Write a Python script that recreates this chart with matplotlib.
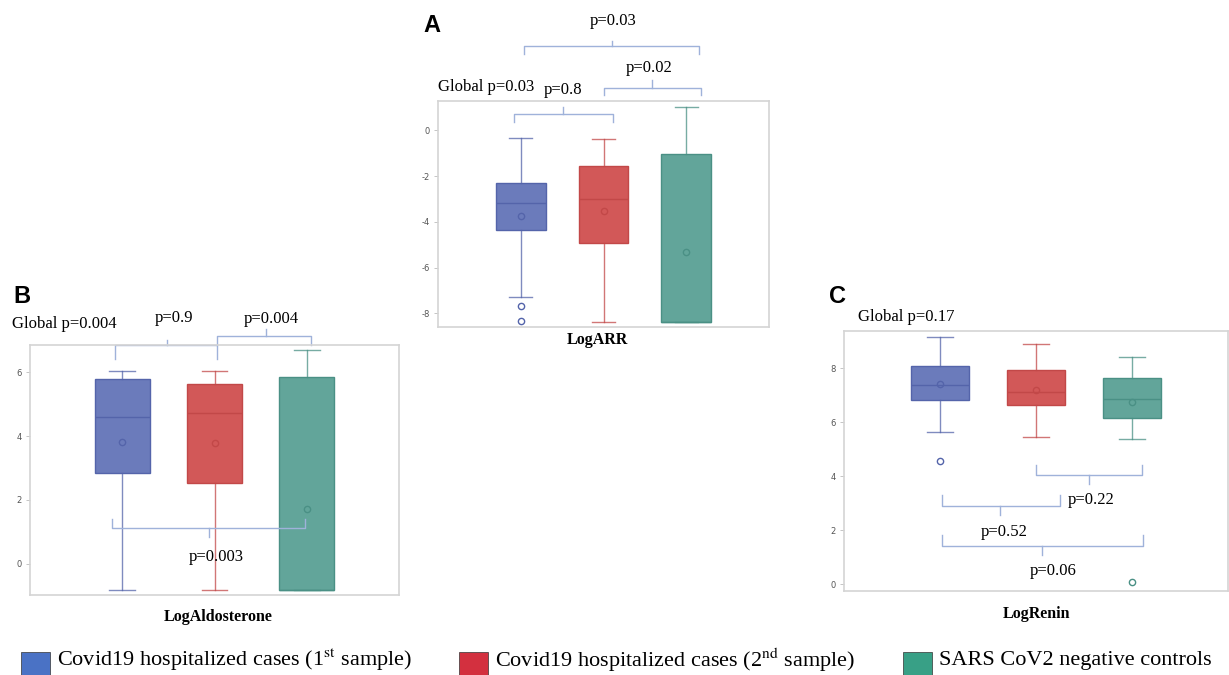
import numpy as np
import matplotlib.pyplot as plt
from matplotlib.patches import Rectangle

plt.rcParams['font.family'] = ['Liberation Serif', 'DejaVu Serif']
plt.rcParams['mathtext.fontset'] = 'stix'
plt.rcParams['axes.unicode_minus'] = False

# 三组：第一次采样、第二次采样、阴性对照
groups = ['Covid19 hospitalized cases (1$^{\\mathrm{st}}$ sample)',
          'Covid19 hospitalized cases (2$^{\\mathrm{nd}}$ sample)',
          'SARS CoV2 negative controls']
fill_colors = ['#6B7BBB', '#D25858', '#62A59A']
edge_colors = ['#5464AA', '#C24848', '#4A9085']
legend_colors = ['#4A72C5', '#D3303F', '#38A086']

# 每个面板: whishi, q3, med, q1, whislo, mean
arr_hi = [-0.32, -0.39, 1.03]
arr_q3 = [-2.29, -1.54, -1.02]
arr_med = [-3.19, -3.01, -8.37]
arr_q1 = [-4.38, -4.92, -8.37]
arr_lo = [-7.29, -8.37, -8.37]
arr_mean = [-3.74, -3.55, -5.30]
arr_fliers = [[-7.67, -8.35], [], []]

ald_hi = [6.06, 6.04, 6.69]
ald_q3 = [5.78, 5.64, 5.85]
ald_med = [4.59, 4.72, -0.81]
ald_q1 = [2.84, 2.53, -0.81]
ald_lo = [-0.81, -0.81, -0.81]
ald_mean = [3.82, 3.79, 1.73]
ald_fliers = [[], [], []]

ren_hi = [9.15, 8.88, 8.41]
ren_q3 = [8.07, 7.93, 7.65]
ren_med = [7.38, 7.12, 6.86]
ren_q1 = [6.84, 6.63, 6.17]
ren_lo = [5.65, 5.46, 5.37]
ren_mean = [7.40, 7.21, 6.75]
ren_fliers = [[4.57], [], [0.1]]

W, H = 1229, 675
fig = plt.figure(figsize=(W / 100, H / 100), dpi=100)


def px_axes(l, t, r, b):
    return fig.add_axes([l / W, 1 - b / H, (r - l) / W, (b - t) / H])


def draw_box(ax, hi, q3, med, q1, lo, mean, fliers, ylim, yticks):
    for i in range(3):
        st = [dict(whishi=hi[i], q3=q3[i], med=med[i], q1=q1[i],
                   whislo=lo[i], mean=mean[i], fliers=fliers[i])]
        ec = edge_colors[i]
        ax.bxp(st, positions=[i + 1], widths=0.6, capwidths=0.28,
               patch_artist=True, showmeans=True, showfliers=True,
               boxprops=dict(facecolor=fill_colors[i], edgecolor=ec, linewidth=1),
               medianprops=dict(color=ec, linewidth=1),
               whiskerprops=dict(color=ec, linewidth=1, alpha=0.75),
               capprops=dict(color=ec, linewidth=1, alpha=0.75),
               meanprops=dict(marker='o', markerfacecolor='none',
                              markeredgecolor=ec, markersize=4.5, markeredgewidth=1),
               flierprops=dict(marker='o', markerfacecolor='none',
                               markeredgecolor=ec, markersize=4.5, markeredgewidth=1))
    ax.set_xlim(0, 4)
    ax.set_ylim(*ylim)
    ax.set_xticks([])
    ax.set_yticks(yticks)
    ax.tick_params(axis='y', labelsize=6, colors='#555555', length=3, width=0.6,
                   color='#BBBBBB', pad=3)
    for lab in ax.get_yticklabels():
        lab.set_family('DejaVu Sans')
    for s in ax.spines.values():
        s.set_color('#D4D4D4')
        s.set_linewidth(1.2)


def bracket(ax, x1, x2, y, yend, xc, ytick):
    c = '#9FB2DA'
    ax.plot([x1, x1, x2, x2], [yend, y, y, yend], color=c, lw=1, clip_on=False)
    ax.plot([xc, xc], [y, ytick], color=c, lw=1, clip_on=False)


def ptext(ax, x, y, s, ha='center'):
    ax.text(x, y, s, ha=ha, va='center', fontsize=12, clip_on=False)


# A: LogARR
axA = px_axes(438, 101, 769, 327)
draw_box(axA, arr_hi, arr_q3, arr_med, arr_q1, arr_lo, arr_mean, arr_fliers,
         (-8.6, 1.28), [0, -2, -4, -6, -8])
bracket(axA, 0.92, 2.11, 0.72, 0.38, 1.51, 1.02)
bracket(axA, 2.0, 3.18, 1.86, 1.53, 2.59, 2.2)
bracket(axA, 1.04, 3.16, 3.68, 3.34, 2.1, 3.9)
ptext(axA, 1.51, 1.76, 'p=0.8')
ptext(axA, 2.55, 2.72, 'p=0.02')
ptext(axA, 2.12, 4.77, 'p=0.03')
ptext(axA, 0.0, 1.89, 'Global p=0.03', ha='left')

# B: LogAldosterone
axB = px_axes(30, 345, 399, 595)
draw_box(axB, ald_hi, ald_q3, ald_med, ald_q1, ald_lo, ald_mean, ald_fliers,
         (-0.98, 6.86), [0, 2, 4, 6])
bracket(axB, 0.92, 2.03, 6.85, 6.43, 1.48, 7.03)
bracket(axB, 2.03, 3.05, 7.13, 6.86, 2.56, 7.36)
bracket(axB, 0.89, 2.98, 1.11, 1.39, 1.94, 0.85)
ptext(axB, 1.56, 7.71, 'p=0.9')
ptext(axB, 2.62, 7.66, 'p=0.004')
ptext(axB, 2.02, 0.22, 'p=0.003')
ptext(axB, -0.2, 7.53, 'Global p=0.004', ha='left')

# C: LogRenin
axC = px_axes(844, 331, 1228, 591)
draw_box(axC, ren_hi, ren_q3, ren_med, ren_q1, ren_lo, ren_mean, ren_fliers,
         (-0.25, 9.38), [0, 2, 4, 6, 8])
bracket(axC, 2.0, 3.10, 4.06, 4.43, 2.55, 3.73)
bracket(axC, 1.02, 2.25, 2.91, 3.30, 1.63, 2.56)
bracket(axC, 1.02, 3.11, 1.43, 1.81, 2.06, 1.07)
ptext(axC, 2.57, 3.11, 'p=0.22')
ptext(axC, 1.67, 1.94, 'p=0.52')
ptext(axC, 2.18, 0.49, 'p=0.06')
ptext(axC, 0.15, 9.9, 'Global p=0.17', ha='left')

# 轴标签和面板字母
for x, y, s in [(597, 340, 'LogARR'), (218, 617, 'LogAldosterone'), (1036, 614, 'LogRenin')]:
    fig.text(x / W, 1 - y / H, s, ha='center', va='center', fontsize=11.5, fontweight='bold')
for x, y, s in [(432, 26, 'A'), (22, 297, 'B'), (838, 297, 'C')]:
    fig.text(x / W, 1 - y / H, s, ha='center', va='center', fontsize=17,
             fontweight='bold', family='Liberation Sans')

# 图例
leg_x = [21, 459, 903]
for i in range(3):
    fig.patches.append(Rectangle((leg_x[i] / W, 1 - 675 / H), 29 / W, 23 / H,
                                 transform=fig.transFigure, facecolor=legend_colors[i],
                                 edgecolor='#333333', linewidth=0.5))
    fig.text((leg_x[i] + 36) / W, 1 - 660 / H, groups[i], ha='left', va='center',
             fontsize=16)

fig.savefig('out.png', dpi=100)
